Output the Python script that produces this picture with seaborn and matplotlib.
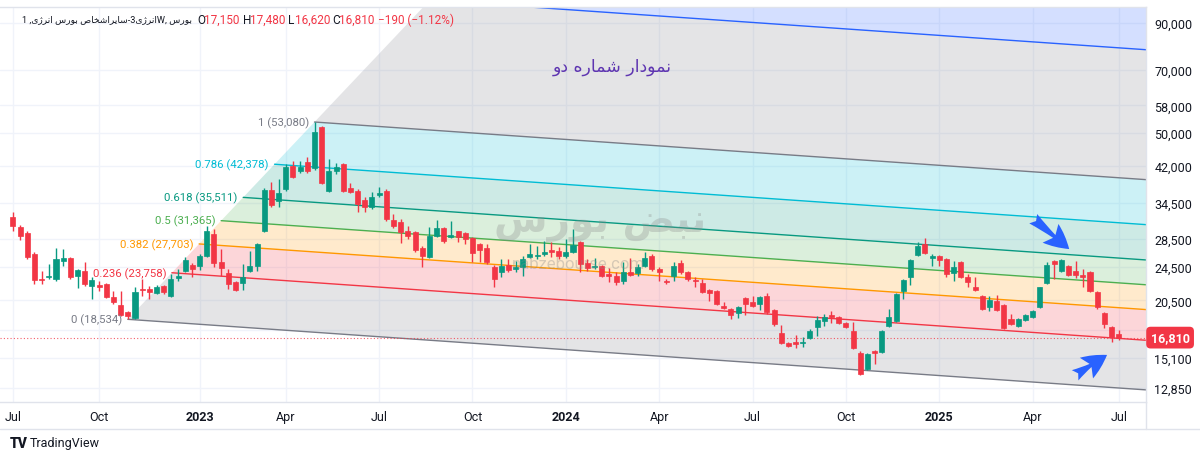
import numpy as np
import pandas as pd
import matplotlib
matplotlib.use('Agg')
import matplotlib.pyplot as plt
import matplotlib.transforms as mtrans
from matplotlib.patches import Polygon
from matplotlib.lines import Line2D
from matplotlib.ticker import FuncFormatter, NullLocator, FixedLocator
import seaborn as sns

# ---------------- data (weekly candles) ----------------
open_ = [31980, 30320, 29360, 26250, 22900, 23220, 22970, 25290, 25700, 23350,
         23970, 22130, 22250, 22370, 20870, 20000, 19260, 18660, 21780, 21780,
         21320, 22130, 20980, 23100, 23970, 24760, 24630, 25960, 29210, 25150,
         23720, 22610, 22490, 23970, 24630, 29680, 36930, 34830, 37130, 41980,
         40870, 42880, 41530, 51680, 36740, 40870, 42430, 37330, 36740, 35010,
         33730, 35970, 36740, 31470, 31140, 29680, 29520, 27100, 25830, 28900,
         30160, 28750, 29680, 29360, 28590, 27690, 27100, 24490, 23850, 24760,
         24230, 24490, 25830, 25960, 26250, 26820, 26680, 25960, 26530, 27990,
         25020, 24490, 24630, 23600, 23350, 22730, 23850, 23720, 24630, 25960,
         24230, 22730, 23350, 25020, 23850, 22850, 22490, 21660, 21550, 19890,
         19580, 19160, 20760, 20320, 20110, 20980, 19470, 17230, 16340, 16420,
         16340, 16780, 17790, 18360, 18960, 18760, 18170, 17420, 15480, 14220,
         15650, 15570, 17890, 18360, 21550, 23220, 26110, 27690, 25690, 25960,
         25560, 23720, 25150, 23220, 22010, 20980, 19790, 20430, 20000, 18560,
         17890, 18460, 18760, 19790, 22490, 25290, 23970, 24630, 23970, 23470,
         23850, 21440, 19160, 17790, 17150]
high_ = [32840, 30650, 29680, 26530, 23970, 24890, 27100, 26960, 25830, 24230,
         25150, 23220, 22730, 22490, 21550, 21550, 19370, 22010, 22970, 22130,
         22250, 22250, 23600, 24230, 25830, 25020, 26250, 30480, 30000, 26960,
         24230, 22730, 24890, 26680, 27840, 37330, 38550, 39170, 42430, 43110,
         43110, 44040, 53080, 51950, 43570, 42660, 42660, 38340, 37130, 35570,
         36550, 37530, 37130, 32500, 31640, 30480, 29680, 27400, 30320, 31470,
         30320, 31310, 29680, 29520, 28750, 27840, 27690, 24760, 25560, 25560,
         25290, 25960, 27690, 27400, 28140, 27990, 27250, 28440, 30000, 28140,
         25560, 25690, 24760, 24360, 23850, 25150, 25690, 24890, 26530, 26250,
         24490, 22970, 25150, 25420, 23970, 23220, 22970, 21780, 21660, 20320,
         19700, 19890, 20870, 20980, 20980, 21320, 19580, 17980, 16420, 17050,
         16870, 17600, 18860, 19060, 19370, 18860, 18270, 18270, 15650, 15480,
         15730, 17510, 19580, 21320, 22970, 25560, 27990, 28590, 26250, 26110,
         25690, 25290, 25290, 23600, 23220, 21100, 20980, 21100, 20110, 19060,
         18660, 19060, 19470, 22050, 25150, 25420, 25560, 24760, 25290, 24230,
         23970, 21550, 19260, 17890, 17480]
low_ = [29680, 28290, 25560, 22370, 22370, 22970, 22730, 24630, 22970, 21900,
        22130, 20650, 21550, 20760, 20110, 18860, 18534, 18560, 20980, 20650,
        21210, 21210, 20870, 22730, 23850, 23220, 24100, 25830, 24490, 23350,
        21780, 21550, 21660, 23850, 23970, 29600, 33730, 33730, 36740, 39380,
        40430, 40430, 41090, 38140, 36550, 40220, 36550, 36350, 32840, 32840,
        33370, 35570, 31310, 30160, 27840, 28440, 26530, 24490, 25690, 28750,
        27840, 28590, 27990, 27690, 25150, 25150, 24890, 22010, 23220, 23850,
        23850, 23350, 25690, 25560, 25960, 25830, 25560, 25690, 26390, 23850,
        23970, 24230, 23220, 22610, 22250, 22370, 23350, 23350, 24500, 23970,
        22730, 22370, 22730, 23600, 22730, 22010, 21320, 20430, 20000, 19580,
        18560, 18660, 18960, 19790, 19470, 19060, 17890, 16250, 15990, 15910,
        15990, 16690, 16960, 17890, 18170, 18080, 17700, 15820, 13770, 14140,
        14600, 15480, 17790, 18270, 20650, 22250, 25960, 26250, 24630, 24630,
        23220, 22730, 23100, 22010, 21550, 19470, 19370, 19370, 17600, 17980,
        17790, 18360, 18660, 19680, 22370, 22970, 23850, 23350, 23100, 22010,
        21440, 19580, 17700, 16420, 16620]
close_ = [30480, 28900, 25830, 22850, 22850, 23350, 25560, 25700, 23220, 24100,
          22370, 22850, 22020, 20870, 20320, 18960, 18860, 21440, 21700, 21440,
          22010, 21440, 22970, 23350, 25420, 24230, 25960, 29680, 25020, 24360,
          22370, 21660, 23220, 24630, 27690, 36930, 34100, 36350, 41750, 39590,
          41750, 40870, 50330, 38340, 40870, 41750, 36740, 36550, 34280, 33730,
          35570, 36350, 31640, 30480, 29520, 28900, 26820, 25960, 28900, 30160,
          28140, 29060, 28750, 28440, 26390, 26820, 25150, 22970, 24630, 24100,
          24490, 25560, 26250, 26110, 26530, 26530, 25960, 26530, 27540, 24890,
          24360, 24630, 23350, 23350, 22610, 23850, 23470, 24490, 25690, 24230,
          23850, 22610, 24630, 23850, 22970, 22730, 21440, 21320, 20110, 19680,
          18960, 19790, 20110, 19890, 20870, 19260, 18080, 16340, 16080, 16250,
          16420, 17420, 18460, 18760, 18760, 18170, 17790, 15910, 13840, 15400,
          15480, 17420, 18760, 21210, 22850, 25420, 27400, 26390, 25960, 25420,
          23600, 24490, 23220, 22610, 21660, 19580, 20540, 19470, 17700, 18080,
          18560, 18960, 19370, 22010, 24760, 24890, 25420, 23470, 23470, 23220,
          21550, 19790, 18080, 16870, 16810]

tick_pos = [0, 12, 26, 38, 51, 64, 77, 90, 103, 116, 129, 142, 154]
tick_lbl = ['Jul', 'Oct', '2023', 'Apr', 'Jul', 'Oct', '2024', 'Apr', 'Jul', 'Oct', '2025', 'Apr', 'Jul']
price_ticks = [12850, 15100, 17500, 20500, 24500, 28500, 34500, 42000, 50000, 58000, 70000, 90000]

# fib channel: A (swing low), B (trend end of base line), C (swing high)
fib_bar = [16, 154, 42]
fib_price = [18534, 12850, 53080]
fib_levels = [0, 0.236, 0.382, 0.5, 0.618, 0.786, 1, 1.618, 2.618]
fib_labels = [18534, 23758, 27703, 31365, 35511, 42378, 53080]
fib_colors = ['#787B86', '#F23645', '#FF9800', '#4CAF50', '#089981', '#00BCD4',
              '#787B86', '#2962FF', '#F23645']

header_ohlc = ['17,150', '17,480', '16,620', '16,810']

# ---------------- small Persian shaper (matplotlib has no RTL shaping) ----------------
FORMS = {
    'ا': ('\uFE8D', '\uFE8E', None, None), 'ب': ('\uFE8F', '\uFE90', '\uFE91', '\uFE92'),
    'ن': ('\uFEE5', '\uFEE6', '\uFEE7', '\uFEE8'), 'ر': ('\uFEAD', '\uFEAE', None, None),
    'ژ': ('\uFB8A', '\uFB8B', None, None), 'ی': ('\uFBFC', '\uFBFD', '\uFBFE', '\uFBFF'),
    'و': ('\uFEED', '\uFEEE', None, None), 'س': ('\uFEB1', '\uFEB2', '\uFEB3', '\uFEB4'),
    'ش': ('\uFEB5', '\uFEB6', '\uFEB7', '\uFEB8'), 'خ': ('\uFEA5', '\uFEA6', '\uFEA7', '\uFEA8'),
    'ص': ('\uFEB9', '\uFEBA', '\uFEBB', '\uFEBC'), 'ه': ('\uFEE9', '\uFEEA', '\uFEEB', '\uFEEC'),
    'م': ('\uFEE1', '\uFEE2', '\uFEE3', '\uFEE4'), 'د': ('\uFEA9', '\uFEAA', None, None),
    'ض': ('\uFEBD', '\uFEBE', '\uFEBF', '\uFEC0'),
}

def shape_word(w):
    out = []
    for k, ch in enumerate(w):
        f = FORMS.get(ch)
        if f is None:
            out.append(ch); continue
        pj = k > 0 and w[k-1] in FORMS and FORMS[w[k-1]][2] is not None
        nj = k < len(w) - 1 and w[k+1] in FORMS and f[2] is not None
        out.append(f[3] if pj and nj else f[1] if pj else f[2] if nj else f[0])
    return ''.join(reversed(out))

def rtl(s):
    return ' '.join(shape_word(w) for w in reversed(s.split()))

# ---------------- style ----------------
sns.set_theme(style='white')
plt.rcParams['font.family'] = ['Roboto', 'DejaVu Sans']
GREEN, RED, TXT = '#089981', '#F23645', '#131722'

fig = plt.figure(figsize=(12, 4.6), dpi=100)
ax = fig.add_axes([0, 57/460, 1146/1200, 395/460])
ax.set_yscale('log')
ax.set_xlim(-1.8, 157.8)
ax.set_ylim(11925, 98020)

# ---------------- fib channel ----------------
slope = (np.log(fib_price[1]) - np.log(fib_price[0])) / (fib_bar[1] - fib_bar[0])
span_bar = fib_bar[2] - fib_bar[0]
span_ln = np.log(fib_price[2]) - np.log(fib_price[0])
x_end = 160

def lvl_start(k):
    return fib_bar[0] + k * span_bar

def lvl_price(k, x):
    return np.exp(np.log(fib_price[0]) + k * span_ln + slope * (x - lvl_start(k)))

for j in range(len(fib_levels) - 1):
    k0, k1 = fib_levels[j], fib_levels[j+1]
    verts = [(lvl_start(k0), lvl_price(k0, lvl_start(k0))), (x_end, lvl_price(k0, x_end)),
             (x_end, lvl_price(k1, x_end)), (lvl_start(k1), lvl_price(k1, lvl_start(k1)))]
    ax.add_patch(Polygon(verts, closed=True, fc=fib_colors[j], alpha=0.2, ec='none', zorder=1))

rows = []
for k in fib_levels:
    for x in (lvl_start(k), x_end):
        rows.append({'bar': x, 'price': lvl_price(k, x), 'level': f'{k:g}'})
lines_df = pd.DataFrame(rows)
sns.lineplot(data=lines_df, x='bar', y='price', hue='level', errorbar=None,
             palette={f'{k:g}': c for k, c in zip(fib_levels, fib_colors)},
             legend=False, linewidth=1, ax=ax, zorder=2)

for k, p, c in zip(fib_levels, fib_labels, fib_colors):
    ax.text(lvl_start(k) - 0.8, lvl_price(k, lvl_start(k)), f'{k:g} ({p:,})', ha='right',
            va='center', color=c, fontsize=8.2, zorder=4)

# ---------------- candles ----------------
o, h, l, c = map(np.array, (open_, high_, low_, close_))
idx = np.arange(len(c))
cols = np.where(c >= o, GREEN, RED)
ax.vlines(idx, l, h, colors=cols, linewidth=1, zorder=3)
bottom = np.minimum(o, c)
height = np.maximum(np.abs(c - o), o * 0.004)
ax.bar(idx, height, bottom=bottom, width=0.7, color=cols, edgecolor=cols, linewidth=0.5, zorder=3)

ax.axhline(close_[-1], color=RED, ls=(0, (1, 2)), lw=0.8, alpha=0.8, zorder=2)

# ---------------- axes ----------------
ax.yaxis.tick_right()
ax.yaxis.set_major_locator(FixedLocator(price_ticks))
ax.yaxis.set_minor_locator(NullLocator())
ax.yaxis.set_major_formatter(FuncFormatter(lambda v, _: f'{v:,.0f}'))
ax.set_xticks(tick_pos)
ax.set_xticklabels(tick_lbl)
for t in ax.get_xticklabels():
    if t.get_text().isdigit():
        t.set_fontweight('bold')
ax.tick_params(axis='both', length=0, labelsize=9, colors=TXT)
ax.tick_params(axis='y', pad=6)
ax.tick_params(axis='x', pad=6)
ax.set_xlabel('')
ax.set_ylabel('')
ax.grid(True, color='#F0F3FA', lw=1)
ax.set_axisbelow(True)
ax.spines['left'].set_visible(False)
for s in ('top', 'right', 'bottom'):
    ax.spines[s].set_color('#E0E3EB')
    ax.spines[s].set_linewidth(1)

# last price tag (covers most of the 17,500 label, as in the source)
tr = mtrans.blended_transform_factory(ax.transAxes, ax.transData)
ax.text(1.004, close_[-1], f'{close_[-1]:,}', transform=tr, ha='left', va='center',
        color='white', fontsize=9, fontweight='bold', zorder=6, clip_on=False,
        bbox=dict(boxstyle='round,pad=0.35', fc=RED, ec='none'))

# arrows
arrow = dict(arrowstyle='fancy,head_length=0.8,head_width=0.8,tail_width=0.4',
             color='#2962FF', lw=0, mutation_scale=22)
ax.annotate('', xy=(147.4, 26700), xytext=(141.8, 32000), arrowprops=arrow, zorder=5)
ax.annotate('', xy=(152.7, 15450), xytext=(147.6, 13640), arrowprops=arrow, zorder=5)

# title and watermark
ax.text(0.534, 0.851, rtl('نمودار شماره دو'), transform=ax.transAxes, ha='center',
        va='center', color='#5E35B1', fontsize=12.5, family=['DejaVu Sans'], zorder=5)
ax.text(0.524, 0.455, rtl('نبض بورس'), transform=ax.transAxes, ha='center', va='center',
        color='#8A8A8A', alpha=0.3, fontsize=28, fontweight='bold', family=['DejaVu Sans'], zorder=4)
ax.text(0.505, 0.35, 'nabzebourse.com', transform=ax.transAxes, ha='center', va='center',
        color='#8A8A8A', alpha=0.35, fontsize=12, zorder=4)

# header
hy = 1 - 20/460
head = ('1 ,' + shape_word('انرژی') + ' ' + shape_word('بورس') + ' ' + shape_word('سایراشخاص')
        + '-3' + shape_word('انرژی') + 'W, ' + shape_word('بورس'))
fig.text(192/1200, hy, head, color=TXT, fontsize=6.6, va='center', ha='right',
         family=['Roboto', 'DejaVu Sans'])
for letter, val, x0 in zip('OHLC', header_ohlc, [197, 243, 288, 332]):
    fig.text(x0/1200, hy, letter, color=TXT, fontsize=8.5, va='center')
    fig.text((x0 + 7)/1200, hy, val, color=RED, fontsize=8.5, va='center')
fig.text(378/1200, hy, '\u2212190 (\u22121.12%)', color=RED, fontsize=8.5, va='center')

# time axis frame and logo
fig.add_artist(Line2D([0, 1], [1 - 430/460] * 2, color='#E0E3EB', lw=1))
fig.add_artist(Line2D([1146/1200] * 2, [1 - 430/460, 1 - 403/460], color='#E0E3EB', lw=1))
fig.text(10/1200, 1 - 444/460, 'TV', color=TXT, fontsize=10, fontweight='heavy', va='center')
fig.text(30/1200, 1 - 444/460, 'TradingView', color=TXT, fontsize=9, va='center')

fig.savefig('out.png', dpi=100, facecolor='white')
